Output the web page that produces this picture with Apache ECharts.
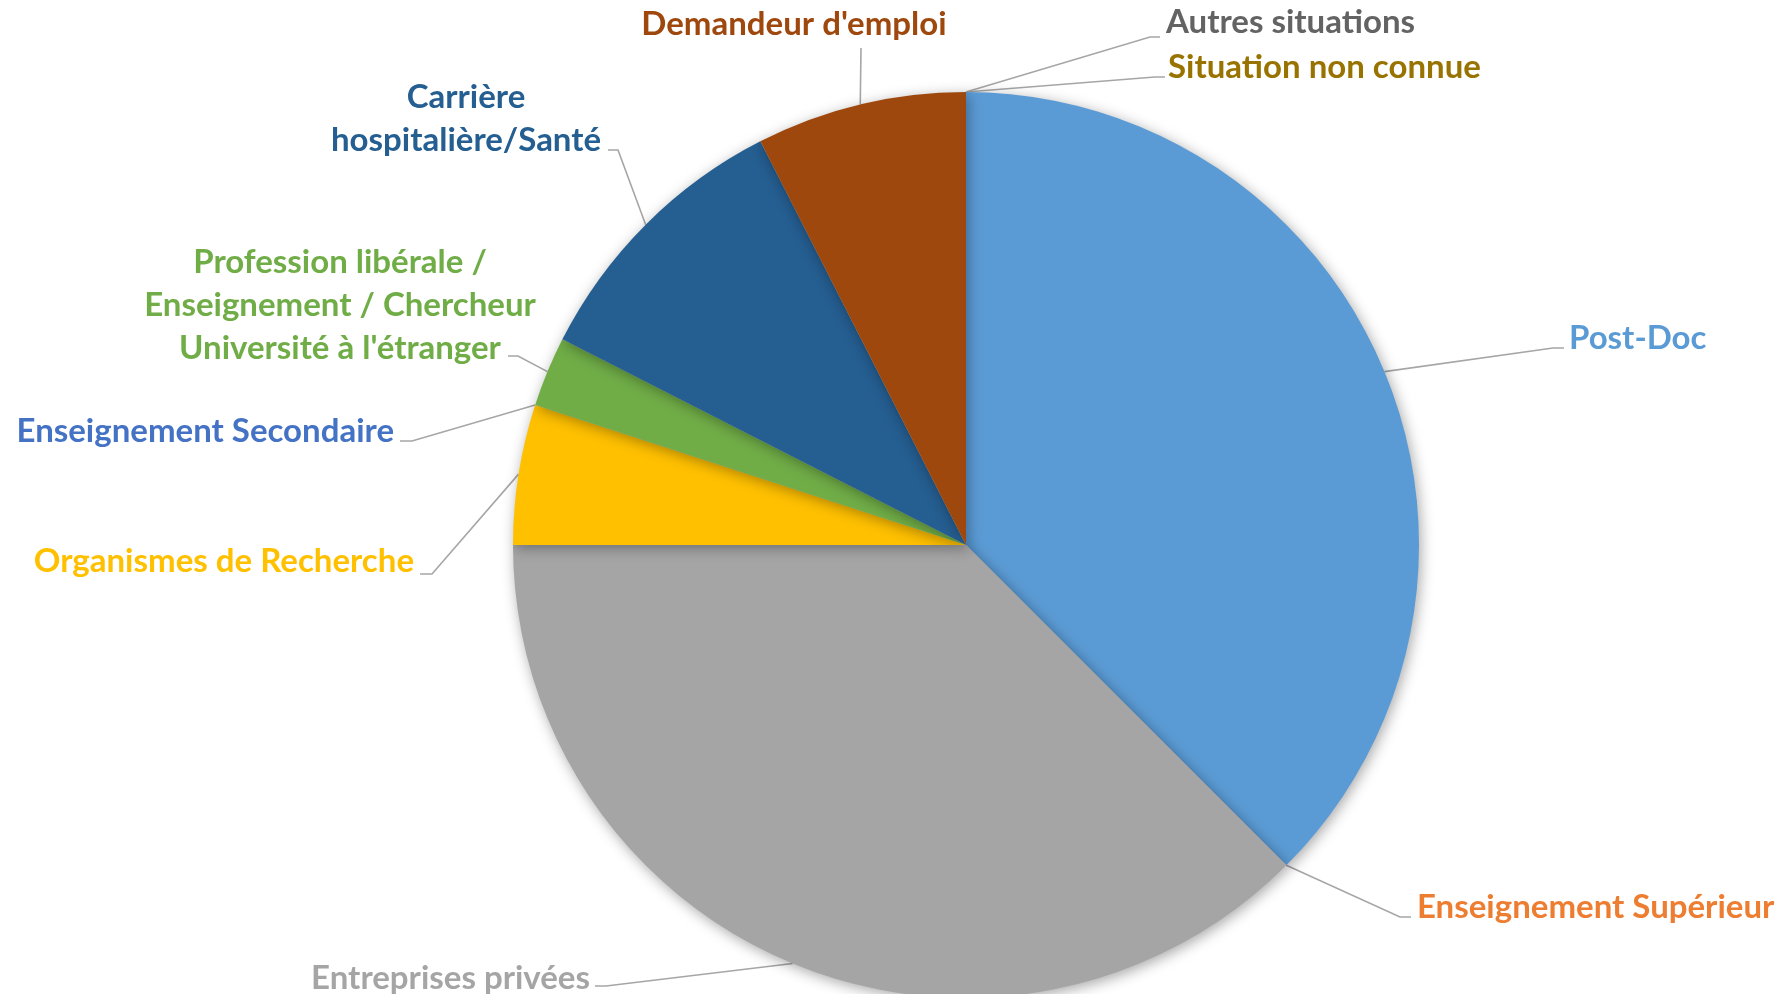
<!DOCTYPE html>
<html>
<head>
<meta charset="utf-8">
<script src="https://cdn.jsdelivr.net/npm/echarts@6/dist/echarts.min.js"></script>
<style>
html,body{margin:0;padding:0;background:#ffffff;}
#chart{width:1789px;height:994px;}
</style>
</head>
<body>
<div id="chart"></div>
<script>
// ---- data ----
const categories = [
  'Post-Doc',
  'Enseignement Supérieur',
  'Entreprises privées',
  'Organismes de Recherche',
  'Enseignement Secondaire',
  'Profession libérale /\nEnseignement / Chercheur\nUniversité à l\'étranger',
  'Carrière\nhospitalière/Santé',
  'Demandeur d\'emploi',
  'Autres situations',
  'Situation non connue'
];
const values = [15, 0, 15, 2, 0, 1, 4, 3, 0, 0];
const colors = ['#5B9BD5', '#ED7D31', '#A5A5A5', '#FFC000', '#4472C4', '#70AD47', '#255E91', '#9E480E', '#636363', '#997300'];

// ---- label placement (layout only) ----
const labelSpots = [
  {x: 1569, y: 338, align: 'left',   elbow: [1553, 348], end: [1564, 348]},
  {x: 1417, y: 907, align: 'left',   elbow: [1400, 917], end: [1411, 917]},
  {x: 590,  y: 978, align: 'right',  elbow: [606, 986],  end: [595, 986]},
  {x: 414,  y: 561, align: 'right',  elbow: [432, 574],  end: [420, 574]},
  {x: 394,  y: 431, align: 'right',  elbow: [412, 441],  end: [400, 441]},
  {x: 340,  y: 305, align: 'center', elbow: [518, 356],  end: [508, 356]},
  {x: 466,  y: 119, align: 'center', elbow: [618, 150],  end: [608, 150]},
  {x: 794,  y: 24,  align: 'center', elbow: [861, 48],   end: [861, 48]},
  {x: 1166, y: 22,  align: 'left',   elbow: [1150, 37],  end: [1160, 37]},
  {x: 1168, y: 67,  align: 'left',   elbow: [1155, 77],  end: [1165, 77]}
];

const seriesData = categories.map((name, i) => ({
  name: name,
  value: values[i],
  itemStyle: {color: colors[i]},
  label: {color: colors[i]}
}));

const chart = echarts.init(document.getElementById('chart'), null, {renderer: 'canvas'});
chart.setOption({
  animation: false,
  backgroundColor: '#ffffff',
  series: [{
    type: 'pie',
    center: [966, 545],
    radius: 453,
    startAngle: 90,
    clockwise: true,
    avoidLabelOverlap: false,
    minShowLabelAngle: 0,
    data: seriesData,
    itemStyle: {
      borderWidth: 0,
      shadowBlur: 14,
      shadowColor: 'rgba(0,0,0,0.35)',
      shadowOffsetX: 2,
      shadowOffsetY: 3
    },
    label: {
      show: true,
      position: 'outside',
      formatter: '{b}',
      fontFamily: 'Lato',
      fontWeight: 'bold',
      fontSize: 33,
      lineHeight: 43
    },
    labelLine: {
      show: true,
      lineStyle: {color: '#A6A6A6', width: 1.6}
    },
    labelLayout: function (params) {
      const s = labelSpots[params.dataIndex];
      const pts = params.labelLinePoints;
      const start = pts && pts[0] ? pts[0] : s.elbow;
      return {
        x: s.x,
        y: s.y,
        align: s.align,
        verticalAlign: 'middle',
        labelLinePoints: [start, s.elbow, s.end]
      };
    },
    emphasis: {disabled: true}
  }]
});
</script>
</body>
</html>
